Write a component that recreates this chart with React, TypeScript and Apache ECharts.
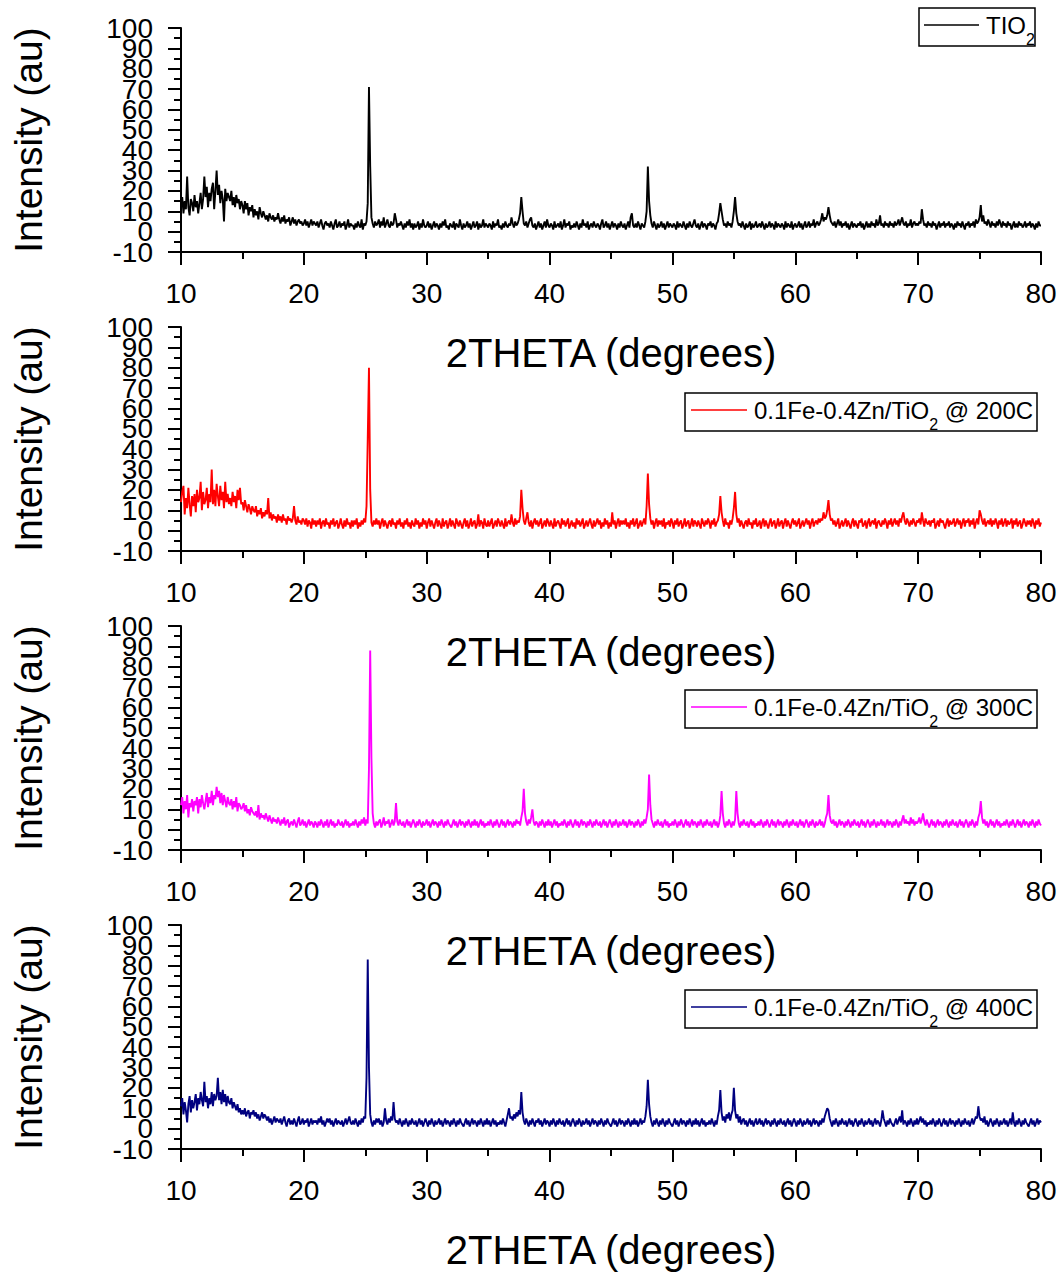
import React, { useEffect, useRef } from 'react';
import * as echarts from 'echarts';

// sampling of the diffractograms: 10.0, 10.1, ... 80.0 degrees (2θ)
const X_START = 10;
const X_STEP = 0.1;

const X_MIN = 10;
const X_MAX = 80;
const X_INTERVAL = 10;
const Y_MIN = -10;
const Y_MAX = 100;
const Y_INTERVAL = 10;
// y tick labels, split in two alternating sets so that the tightly packed labels all stay visible
const Y_LABELS_A = [-10, 10, 30, 50, 70, 90];
const Y_LABELS_B = [0, 20, 40, 60, 80, 100];

// one row per degree (x.0 … x.9), last value = 80.0
const TIO2 = [
  13,17,9,15,11,27,12,8,16,14,
  10,18,12,15,9,14,19,11,16,27,
  17,22,12,19,15,21,24,11,20,30,
  18,23,14,20,16,5,21,15,19,17,
  15,20,13,17,12,18,14,16,11,15,
  13,9,15,11,14,8,12,10,13,7,
  11,8,10,6,12,9,7,10,8,6,
  8,5,9,7,6,8,5,7,6,9,
  6,4,7,5,8,4,6,5,7,3,
  5,7,4,6,3,5,6,4,5,3,
  4,6,3,5,2,4,6,3,5,4,
  3,5,2,4,6,3,1,4,5,3,
  4,2,5,3,1,4,6,2,3,5,
  2,4,3,5,1,3,6,2,4,3,
  3,1,4,2,5,3,2,6,1,4,
  3,5,14,71,32,7,4,2,5,3,
  4,6,2,5,3,7,2,4,6,3,
  2,5,3,4,9,6,2,4,3,5,
  3,1,4,2,5,3,6,2,4,1,
  4,2,3,5,1,4,2,6,3,2,
  3,5,2,4,1,3,5,2,4,3,
  1,4,2,5,3,6,2,3,1,4,
  3,2,5,1,4,3,2,6,3,1,
  4,2,3,5,2,4,1,3,5,2,
  3,5,1,4,2,3,6,2,4,3,
  2,4,3,1,5,2,4,3,6,2,
  3,1,4,2,5,3,2,4,3,7,
  4,2,5,3,4,6,9,17,10,4,
  3,5,2,4,6,7,3,2,4,1,
  3,5,2,4,1,3,5,2,6,3,
  2,4,3,1,5,2,3,4,2,5,
  1,3,6,2,4,3,5,1,3,2,
  4,2,5,3,1,4,2,6,3,4,
  2,5,1,3,4,2,5,3,2,4,
  3,1,4,6,2,3,5,2,4,1,
  3,5,2,4,3,1,4,2,5,3,
  2,4,1,3,5,2,7,9,3,2,
  4,2,5,3,1,4,3,2,5,10,
  32,15,8,4,2,5,3,1,4,2,
  3,5,2,4,1,3,5,2,4,3,
  2,4,3,1,5,2,4,3,2,5,
  3,1,4,2,5,3,2,4,6,3,
  2,4,1,3,5,2,4,3,1,4,
  3,5,2,4,3,1,4,5,9,14,
  10,6,3,4,2,5,3,4,2,5,
  10,17,9,5,3,4,2,5,3,1,
  4,2,3,5,1,4,2,3,5,2,
  3,4,2,5,3,1,4,2,3,5,
  2,4,3,1,5,2,4,3,2,4,
  3,1,5,2,4,3,2,5,1,3,
  4,2,3,5,2,4,1,3,5,2,
  3,5,2,4,3,6,2,4,5,3,
  4,6,9,5,7,6,8,12,8,5,
  4,3,5,2,4,6,3,5,2,4,
  3,5,2,4,1,3,5,2,4,3,
  2,4,3,5,2,4,1,3,5,2,
  4,2,5,3,4,2,6,3,4,8,
  3,4,2,5,3,4,2,5,3,4,
  2,5,3,4,6,3,5,7,4,3,
  5,2,4,3,6,2,4,5,3,4,
  3,5,4,11,6,3,4,2,5,3,
  4,2,5,3,4,1,3,5,2,4,
  3,5,2,4,3,5,2,4,3,1,
  4,2,5,3,4,2,5,3,1,4,
  3,5,2,4,3,5,2,6,4,5,
  7,13,5,8,4,5,3,6,4,2,
  5,3,4,2,5,3,6,4,2,5,
  3,4,2,5,3,4,1,3,5,2,
  4,2,5,3,4,2,3,5,2,4,
  3,5,2,4,3,1,4,2,5,3,
  3,
];

const FE_ZN_200 = [
  14,19,22,8,16,11,21,13,7,17,
  12,18,9,20,14,16,24,10,19,13,
  15,21,11,18,14,30,13,20,12,23,
  17,12,22,15,19,11,24,14,18,13,
  16,12,19,14,17,11,20,15,21,13,
  14,10,15,12,9,13,11,8,12,10,
  9,12,7,10,8,11,6,9,7,10,
  8,16,6,9,5,8,6,7,4,8,
  5,7,4,8,5,6,3,7,5,6,
  4,6,12,5,3,7,4,5,3,6,
  5,3,6,2,5,4,1,6,3,5,
  2,5,3,6,1,4,5,2,6,3,
  4,1,5,3,6,2,4,5,1,3,
  6,3,1,5,2,6,3,4,1,5,
  2,5,3,6,1,4,2,5,3,6,
  4,12,45,80,20,4,2,5,3,6,
  3,5,1,4,6,2,5,3,1,4,
  5,2,6,3,4,1,5,3,6,2,
  4,1,5,3,6,2,4,1,5,3,
  2,6,3,5,1,4,2,6,3,5,
  1,4,6,2,5,3,1,4,6,2,
  5,3,1,6,2,4,5,1,3,6,
  2,5,3,1,6,4,2,5,3,1,
  4,6,2,5,1,3,6,2,4,5,
  1,3,8,2,5,4,1,6,3,2,
  5,2,4,6,1,3,5,2,6,4,
  2,5,3,1,6,2,4,5,3,8,
  4,2,6,3,5,4,7,20,11,5,
  3,6,9,4,2,5,1,4,6,3,
  5,2,4,6,1,3,5,2,6,4,
  2,5,3,1,6,2,4,5,3,1,
  6,3,5,2,4,6,1,3,5,2,
  4,1,6,3,5,2,4,6,1,3,
  5,2,4,6,3,1,5,2,4,6,
  3,5,1,4,2,6,3,5,1,4,
  2,9,3,5,1,4,6,2,5,3,
  5,3,6,2,4,1,5,3,6,2,
  4,6,1,3,5,2,4,6,3,12,
  28,13,6,3,5,1,4,6,2,5,
  3,5,2,6,1,4,3,5,2,6,
  4,1,5,3,6,2,4,5,1,3,
  6,2,4,5,1,3,6,2,5,4,
  2,5,3,1,6,4,2,5,3,6,
  4,1,5,3,6,2,4,5,8,17,
  9,5,2,6,3,4,1,5,3,6,
  11,19,8,4,6,2,5,3,1,4,
  5,2,6,3,4,1,5,3,6,2,
  3,5,1,4,6,2,5,3,1,4,
  6,2,4,5,1,3,6,2,4,5,
  1,4,6,2,5,3,1,4,6,3,
  5,2,4,6,1,3,5,2,4,6,
  3,5,1,4,6,2,4,5,3,6,
  4,6,5,9,6,7,10,15,8,5,
  6,3,5,2,4,6,1,3,5,2,
  4,6,2,5,3,1,4,6,2,5,
  3,1,5,4,6,2,3,5,1,4,
  6,2,4,5,3,6,1,4,5,3,
  2,5,3,6,4,1,5,3,6,2,
  4,6,3,5,2,6,4,7,9,5,
  3,6,4,2,5,3,6,4,2,5,
  4,6,3,9,5,2,6,4,3,5,
  2,5,4,6,1,3,5,2,6,4,
  5,3,1,4,6,2,5,3,4,6,
  2,4,6,3,5,1,4,6,2,5,
  4,6,2,5,3,6,1,4,6,3,
  10,8,5,3,6,2,4,5,3,6,
  2,5,3,6,4,1,5,3,6,2,
  4,6,2,5,3,4,6,1,5,3,
  6,2,4,5,1,3,6,4,2,5,
  3,5,2,6,4,1,5,3,6,2,
  4,
];

const FE_ZN_300 = [
  12,16,8,14,10,17,6,13,11,15,
  9,14,12,16,8,15,11,17,13,10,
  14,18,11,16,13,19,12,17,15,21,
  16,19,13,18,12,17,14,11,16,13,
  12,15,10,14,11,16,9,13,12,10,
  11,13,9,12,8,10,7,11,9,8,
  7,9,6,12,5,8,6,7,5,8,
  6,4,7,5,3,6,4,5,3,6,
  4,2,5,3,6,2,4,5,1,3,
  4,2,5,3,1,4,6,2,3,5,
  2,4,1,3,5,2,4,3,1,4,
  3,1,4,2,5,3,1,4,2,5,
  1,3,5,2,4,1,3,2,5,3,
  2,4,1,3,5,2,4,1,3,2,
  4,2,5,3,1,4,2,5,3,6,
  2,5,3,30,88,35,8,3,1,4,
  2,4,5,1,3,6,2,4,3,5,
  1,3,5,2,4,13,4,2,5,3,
  2,4,1,3,5,2,4,1,3,5,
  3,1,4,2,5,3,1,4,2,3,
  5,2,4,1,3,5,2,4,3,1,
  4,2,5,3,1,4,2,5,3,2,
  1,3,5,2,4,1,3,5,2,4,
  3,1,4,2,5,3,1,4,2,5,
  2,4,1,3,5,2,4,1,3,2,
  4,2,5,3,1,4,2,5,3,1,
  3,5,2,4,1,3,5,2,4,3,
  1,4,2,5,3,4,2,6,9,20,
  8,4,2,5,3,6,10,4,2,4,
  3,1,4,2,5,3,1,4,2,5,
  2,4,1,3,5,2,4,1,3,2,
  4,2,5,3,1,4,2,5,3,1,
  3,5,2,4,1,3,5,2,4,3,
  1,4,2,5,3,1,4,2,5,3,
  2,4,1,3,5,2,4,1,3,5,
  3,1,4,2,5,3,1,4,2,3,
  5,2,4,1,3,5,2,4,3,1,
  4,2,5,3,1,4,2,5,3,6,
  10,27,12,5,3,1,4,2,5,3,
  2,4,1,3,5,2,4,1,3,2,
  4,2,5,3,1,4,2,5,3,1,
  3,5,2,4,1,3,5,2,4,3,
  1,4,2,5,3,1,4,2,5,3,
  2,4,1,3,5,2,4,1,3,7,
  19,8,3,1,4,2,5,3,1,4,
  2,5,19,8,3,1,4,2,5,3,
  2,4,1,3,5,2,4,1,3,2,
  4,2,5,3,1,4,2,5,3,1,
  3,5,2,4,1,3,5,2,4,3,
  1,4,2,5,3,1,4,2,5,3,
  2,4,1,3,5,2,4,1,3,5,
  3,1,4,2,5,3,1,4,2,3,
  5,2,4,1,3,6,8,17,7,4,
  3,5,2,4,1,3,5,2,4,3,
  1,4,2,5,3,1,4,2,5,3,
  2,4,1,3,5,2,4,1,3,5,
  3,1,4,2,5,3,1,4,2,3,
  5,2,4,1,3,5,2,4,3,1,
  4,2,5,3,1,4,2,5,7,3,
  5,3,4,2,6,3,5,2,4,3,
  4,6,3,5,8,4,2,5,3,1,
  3,5,2,4,1,3,5,2,4,3,
  1,4,2,5,3,1,4,2,5,3,
  2,4,1,3,5,2,4,1,3,5,
  3,1,4,2,5,3,1,4,2,6,
  8,14,6,3,5,2,4,1,3,5,
  2,4,1,3,5,2,4,1,3,2,
  4,2,5,3,1,4,2,5,3,1,
  3,5,2,4,1,3,5,2,4,3,
  1,4,2,5,3,1,4,2,5,3,
  2,
];

const FE_ZN_400 = [
  11,15,7,13,9,3,12,16,8,14,
  10,13,17,9,15,12,18,14,11,23,
  13,16,10,15,12,18,11,17,14,16,
  25,14,18,12,19,13,17,11,16,13,
  12,15,10,13,11,9,12,8,10,7,
  9,7,10,6,8,9,5,8,7,9,
  6,8,5,7,4,6,8,5,7,6,
  4,6,3,5,2,4,6,3,5,4,
  3,5,2,4,6,3,1,4,5,2,
  4,2,5,3,1,4,6,2,3,5,
  2,4,3,5,1,3,5,2,4,3,
  4,2,5,3,6,2,4,1,3,5,
  3,5,2,4,1,3,5,2,4,3,
  2,4,1,3,5,2,4,6,3,2,
  4,2,5,3,1,4,2,5,3,6,
  5,25,83,30,7,3,1,4,2,5,
  3,5,2,4,1,3,10,4,2,5,
  3,6,4,13,5,3,4,2,5,3,
  1,4,2,5,3,1,4,2,5,3,
  2,4,1,3,5,2,4,1,3,5,
  3,1,4,2,5,3,1,4,2,3,
  5,2,4,1,3,5,2,4,3,1,
  4,2,5,3,1,4,2,5,3,2,
  1,3,5,2,4,1,3,5,2,4,
  3,1,4,2,5,3,1,4,2,5,
  2,4,1,3,5,2,4,1,3,2,
  4,2,5,3,1,4,7,10,5,6,
  4,7,5,8,6,9,7,18,8,4,
  2,5,3,1,4,2,5,3,1,4,
  3,5,2,4,1,3,5,2,4,3,
  1,4,2,5,3,1,4,2,5,3,
  2,4,1,3,5,2,4,1,3,5,
  3,1,4,2,5,3,1,4,2,3,
  5,2,4,1,3,5,2,4,3,1,
  4,2,5,3,1,4,2,5,3,2,
  1,3,5,2,4,1,3,5,2,4,
  3,1,4,2,5,3,1,4,2,5,
  2,4,1,3,5,2,4,3,6,11,
  24,12,6,3,1,4,2,5,3,1,
  4,2,5,3,1,4,2,5,3,2,
  1,3,5,2,4,1,3,5,2,4,
  3,1,4,2,5,3,1,4,2,5,
  2,4,1,3,5,2,4,1,3,2,
  4,2,5,3,1,4,2,6,9,19,
  8,4,6,3,7,5,8,4,7,9,
  20,9,5,7,3,6,2,4,5,2,
  4,1,3,5,2,4,1,3,5,2,
  3,5,2,4,1,3,5,2,4,3,
  1,4,2,5,3,1,4,2,5,3,
  2,4,1,3,5,2,4,1,3,5,
  3,1,4,2,5,3,1,4,2,3,
  5,2,4,1,3,5,2,4,3,1,
  4,2,5,3,6,8,10,9,5,3,
  1,4,2,5,3,1,4,2,5,3,
  2,4,1,3,5,2,4,1,3,5,
  3,1,4,2,5,3,1,4,2,3,
  5,2,4,1,3,5,2,4,3,1,
  4,9,5,3,1,4,2,5,3,2,
  1,3,5,2,4,6,3,9,2,4,
  3,1,4,2,5,3,1,4,2,5,
  2,4,6,3,5,2,4,1,3,2,
  4,2,5,3,1,4,2,5,3,1,
  3,5,2,4,1,3,5,2,4,3,
  1,4,2,5,3,1,4,2,5,3,
  2,4,1,3,5,2,4,6,5,11,
  6,4,5,3,6,2,4,1,3,5,
  3,1,4,2,5,3,1,4,2,3,
  5,2,4,1,3,5,2,8,3,1,
  4,2,5,3,1,4,2,5,3,2,
  1,3,5,2,4,1,3,5,2,4,
  3,
];

const SERIES_VALUES = [TIO2, FE_ZN_200, FE_ZN_300, FE_ZN_400];
const SERIES_NAMES = [
  'TIO2',
  '0.1Fe-0.4Zn/TiO2 @ 200C',
  '0.1Fe-0.4Zn/TiO2 @ 300C',
  '0.1Fe-0.4Zn/TiO2 @ 400C',
];
const LEGEND_TEXT = [
  '{m|TIO}{s|2}',
  '{m|0.1Fe-0.4Zn/TiO}{s|2}{m| @ 200C}',
  '{m|0.1Fe-0.4Zn/TiO}{s|2}{m| @ 300C}',
  '{m|0.1Fe-0.4Zn/TiO}{s|2}{m| @ 400C}',
];
const COLORS = ['#000000', '#ff0000', '#ff00ff', '#000080'];
const X_NAME = '2THETA (degrees)';
const Y_NAME = 'Intensity (au)';

// layout (pixels)
const W = 1063;
const H = 1272;
const PANEL_TOP = [28, 327, 626, 925];
const PANEL_H = 224;
const PLOT_LEFT = 181;
const PLOT_RIGHT = 1041;
const FONT = "'Liberation Sans', Arial, Helvetica, sans-serif";

const LEGEND_BOX = [
  { x: 919, y: 8, w: 116, h: 38, l1: 924, l2: 979, tx: 986 },
  { x: 685, y: 393, w: 352, h: 38, l1: 691, l2: 747, tx: 754 },
  { x: 685, y: 690, w: 352, h: 38, l1: 691, l2: 747, tx: 754 },
  { x: 685, y: 990, w: 352, h: 38, l1: 691, l2: 747, tx: 754 },
];

function buildOption() {
  const grid = PANEL_TOP.map((t) => ({
    left: PLOT_LEFT,
    width: PLOT_RIGHT - PLOT_LEFT,
    top: t,
    height: PANEL_H,
    containLabel: false,
    outerBoundsMode: 'none',
  }));

  const axisCommon = {
    axisLine: { show: true, onZero: false, lineStyle: { color: '#000', width: 2 } },
    axisTick: { show: true, inside: false, length: 13, lineStyle: { color: '#000', width: 2 } },
    minorTick: { show: true, splitNumber: 2, length: 7, lineStyle: { color: '#000', width: 2 } },
    splitLine: { show: false },
    minorSplitLine: { show: false },
  };

  const xAxis = PANEL_TOP.map((_, i) => ({
    type: 'value',
    gridIndex: i,
    min: X_MIN,
    max: X_MAX,
    interval: X_INTERVAL,
    ...axisCommon,
    axisLabel: {
      show: true, color: '#000', fontSize: 28, margin: 27, fontFamily: FONT,
      showMinLabel: true, showMaxLabel: true,
    },
    name: X_NAME,
    nameLocation: 'middle',
    nameGap: 81,
    nameTextStyle: { color: '#000', fontSize: 40, fontFamily: FONT },
  }));

  const yAxis: any[] = [];
  PANEL_TOP.forEach((_, i) => {
    // main axis: line, ticks, name
    yAxis.push({
      type: 'value',
      gridIndex: i,
      position: 'left',
      offset: 0,
      min: Y_MIN,
      max: Y_MAX,
      interval: Y_INTERVAL,
      ...axisCommon,
      axisLabel: { show: false },
      name: Y_NAME,
      nameLocation: 'middle',
      nameRotate: 90,
      nameGap: 133,
      nameTextStyle: { color: '#000', fontSize: 39, fontFamily: FONT },
    });
    // two label-only axes with alternating tick labels
    [Y_LABELS_A, Y_LABELS_B].forEach((set, k) => {
      yAxis.push({
        type: 'value',
        gridIndex: i,
        position: 'left',
        offset: 0,
        min: Y_MIN,
        max: Y_MAX,
        interval: Y_INTERVAL,
        axisLine: { show: false },
        axisTick: { show: false },
        minorTick: { show: false },
        splitLine: { show: false },
        axisLabel: {
          show: true,
          color: '#000',
          fontSize: 28,
          margin: 28,
          fontFamily: FONT,
          showMinLabel: k === 0,
          showMaxLabel: k === 1,
          formatter: (v: number) => (set.indexOf(Math.round(v)) >= 0 ? String(Math.round(v)) : ''),
        },
      });
    });
  });

  const series = SERIES_VALUES.map((vals, i) => ({
    type: 'line',
    name: SERIES_NAMES[i],
    xAxisIndex: i,
    yAxisIndex: i * 3,
    showSymbol: false,
    symbol: 'none',
    lineStyle: { color: COLORS[i], width: 1.9 },
    itemStyle: { color: COLORS[i] },
    data: vals.map((v, k) => [X_START + k * X_STEP, v]),
    z: 2,
  }));

  const graphic: any[] = [];
  LEGEND_BOX.forEach((b, i) => {
    const cy = b.y + 17;
    graphic.push({
      type: 'rect',
      shape: { x: b.x, y: b.y, width: b.w, height: b.h },
      style: { fill: '#fff', stroke: '#000', lineWidth: 1.5 },
      z: 10,
    });
    graphic.push({
      type: 'line',
      shape: { x1: b.l1, y1: cy, x2: b.l2, y2: cy },
      style: { stroke: COLORS[i], lineWidth: 1.5 },
      z: 11,
    });
    graphic.push({
      type: 'text',
      x: b.tx,
      y: cy + 5,
      style: {
        text: LEGEND_TEXT[i],
        align: 'left',
        verticalAlign: 'middle',
        fill: '#000',
        fontFamily: FONT,
        fontSize: 24,
        rich: {
          m: { fontSize: 24, lineHeight: 34, verticalAlign: 'top', fontFamily: FONT, fill: '#000' },
          s: { fontSize: 16, lineHeight: 15, verticalAlign: 'bottom', fontFamily: FONT, fill: '#000' },
        },
      },
      z: 11,
    });
  });

  return {
    animation: false,
    backgroundColor: '#ffffff',
    textStyle: { fontFamily: FONT },
    grid,
    xAxis,
    yAxis,
    series,
    graphic,
  };
}

export default function App() {
  const ref = useRef<HTMLDivElement>(null);
  useEffect(() => {
    if (!ref.current) return;
    const chart = echarts.init(ref.current, undefined, { renderer: 'svg', width: W, height: H });
    chart.setOption(buildOption() as any);
    return () => {
      chart.dispose();
    };
  }, []);
  return (
    <div
      ref={ref}
      style={{ position: 'absolute', left: 0, top: 0, width: W, height: H, background: '#fff' }}
    />
  );
}
